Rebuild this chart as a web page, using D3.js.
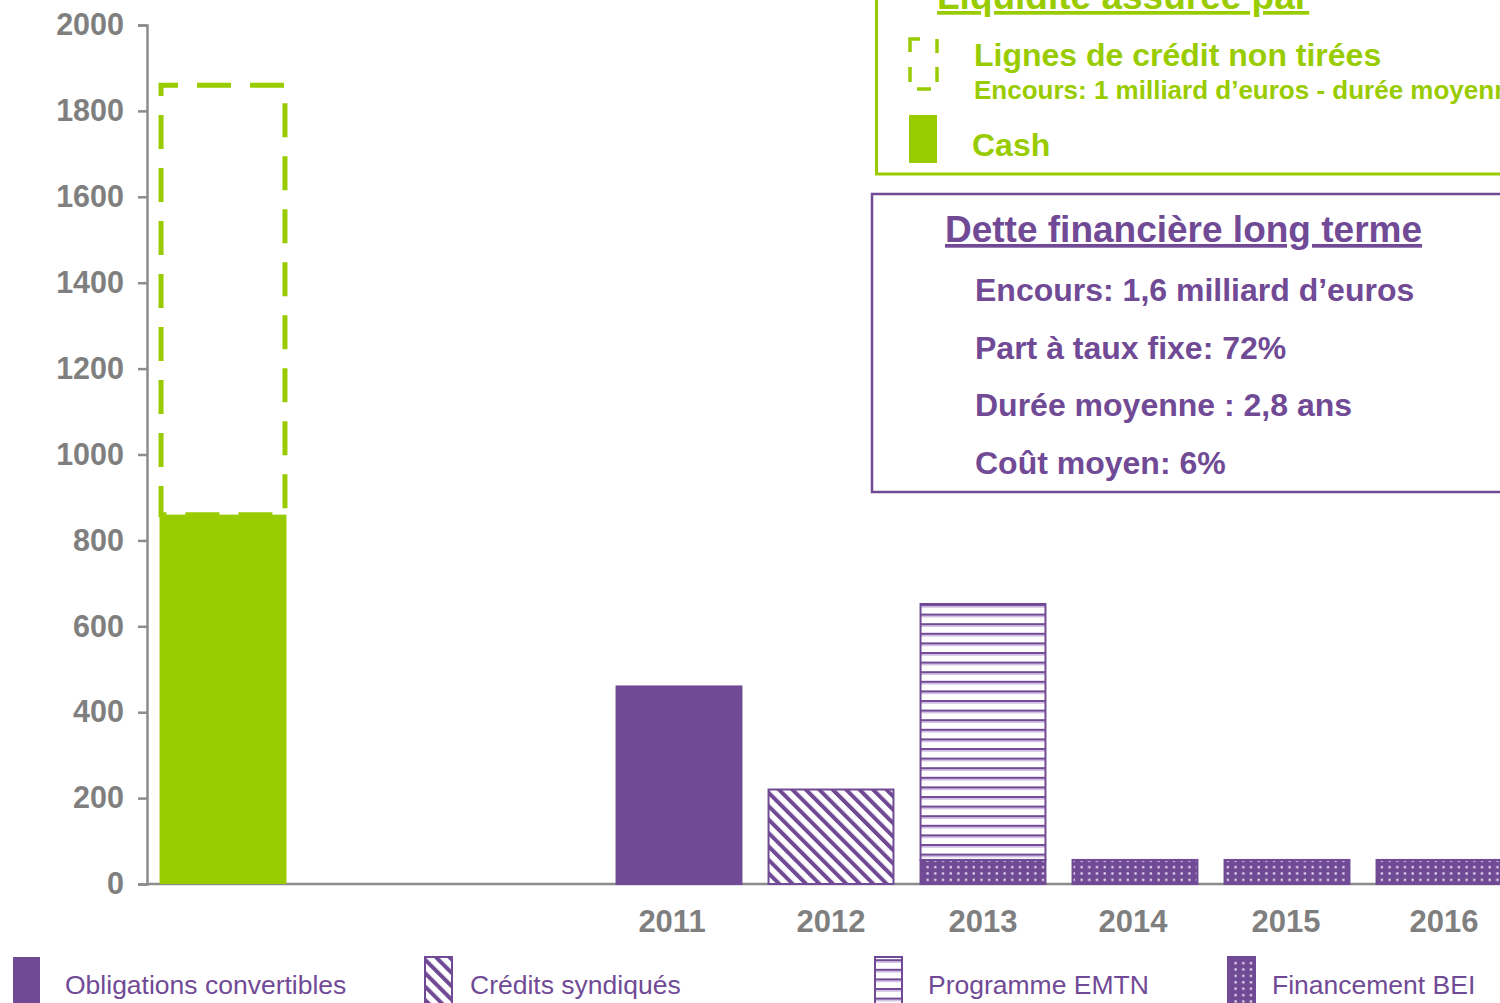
<!DOCTYPE html>
<html><head><meta charset="utf-8">
<script src="https://cdn.jsdelivr.net/npm/d3@7"></script>
<style>body{margin:0;background:#fff;}svg{display:block;font-family:"Liberation Sans",Arial,sans-serif;}</style>
</head><body><div id="chart"></div>
<script>
// ---- data ----
const categories = ["Liquidité", "gapA", "gapB", "2011", "2012", "2013", "2014", "2015", "2016"];
const categoryLabels = ["", "", "", "2011", "2012", "2013", "2014", "2015", "2016"];
const cashValue = 860;
const creditLinesValue = 1000;
const years = ["2011", "2012", "2013", "2014", "2015", "2016"];
const beiValues = [0, 0, 56, 56, 56, 56];
const emtnValues = [0, 0, 596, 0, 0, 0];
const syndicatedValues = [0, 220, 0, 0, 0, 0];
const convertibleValues = [460, 0, 0, 0, 0, 0];
const yTicks = [0, 200, 400, 600, 800, 1000, 1200, 1400, 1600, 1800, 2000];
const seriesKeys = ["bei", "emtn", "syndicated", "convertible"];
const legendLabels = ["Obligations convertibles", "Crédits syndiqués", "Programme EMTN", "Financement BEI"];
const debtLines = ["Encours: 1,6 milliard d’euros", "Part à taux fixe: 72%", "Durée moyenne : 2,8 ans", "Coût moyen: 6%"];

const W = 1500, H = 1003;
const PURPLE = "#714A96", GREEN = "#99CC00", GRAY = "#7F7F7F", AXIS = "#8C8C8C";

const svg = d3.select("#chart").append("svg").attr("width", W).attr("height", H);
const defs = svg.append("defs");

// patterns
const pDiag = defs.append("pattern").attr("id", "pDiag").attr("patternUnits", "userSpaceOnUse")
  .attr("width", 9.5).attr("height", 9.5).attr("patternTransform", "rotate(-45)");
pDiag.append("rect").attr("width", 9.5).attr("height", 9.5).attr("fill", "#fff");
pDiag.append("rect").attr("x", 0).attr("width", 4).attr("height", 9.5).attr("fill", PURPLE);

const pHor = defs.append("pattern").attr("id", "pHor").attr("patternUnits", "userSpaceOnUse")
  .attr("width", 10).attr("height", 9.6).attr("y", 604);
pHor.append("rect").attr("width", 10).attr("height", 9.6).attr("fill", "#fff");
pHor.append("rect").attr("y", 0).attr("width", 10).attr("height", 2).attr("fill", PURPLE);
pHor.append("rect").attr("y", 2).attr("width", 10).attr("height", 1.6).attr("fill", "#C9B6DC");

const pDot = defs.append("pattern").attr("id", "pDot").attr("patternUnits", "userSpaceOnUse")
  .attr("width", 7.7).attr("height", 6.4);
pDot.append("rect").attr("width", 7.7).attr("height", 6.4).attr("fill", PURPLE);
pDot.append("rect").attr("x", 2.5).attr("y", 2).attr("width", 2.2).attr("height", 2.2).attr("fill", "#EAE2F3");

const fills = { bei: "url(#pDot)", emtn: "url(#pHor)", syndicated: "url(#pDiag)", convertible: PURPLE };

// scales
const x = d3.scaleBand().domain(categories).range([147, 1515]).paddingInner(0.165).paddingOuter(0.0825);
const y = d3.scaleLinear().domain([0, 2000]).range([884, 25]);

// axes
const yAxis = svg.append("g").attr("transform", "translate(147,0)")
  .call(d3.axisLeft(y).tickValues(yTicks).tickSize(9).tickPadding(14).tickFormat(d3.format("d")));
yAxis.select(".domain").attr("stroke", AXIS).attr("stroke-width", 2.5);
yAxis.selectAll(".tick line").attr("stroke", AXIS).attr("stroke-width", 2.5);
yAxis.selectAll(".tick text").attr("fill", GRAY).attr("font-size", 30.5).attr("font-weight", "bold")
  .attr("font-family", "Liberation Sans, Arial, sans-serif");

const xLabelShift = [0, 0, 0, -7, 0, 0, -2, -1, 5];
const xAxis = svg.append("g").attr("transform", "translate(0,884)")
  .call(d3.axisBottom(x).tickSize(0).tickPadding(26).tickFormat((d, i) => categoryLabels[i]));
xAxis.select(".domain").attr("stroke", AXIS).attr("stroke-width", 2.5).attr("d", "M147,0H1500");
xAxis.selectAll(".tick text").attr("fill", GRAY).attr("font-size", 31).attr("font-weight", "bold")
  .attr("font-family", "Liberation Sans, Arial, sans-serif")
  .attr("dx", (d, i) => xLabelShift[i]);

// liquidity bar
const liq = categories[0];
svg.append("rect").attr("x", x(liq)).attr("width", x.bandwidth())
  .attr("y", y(cashValue)).attr("height", y(0) - y(cashValue)).attr("fill", GREEN);
svg.append("rect").attr("x", x(liq) + 1.5).attr("width", x.bandwidth() - 3)
  .attr("y", y(cashValue + creditLinesValue)).attr("height", y(cashValue) - y(cashValue + creditLinesValue))
  .attr("fill", "none").attr("stroke", GREEN).attr("stroke-width", 5).attr("stroke-dasharray", "34,19")
  .attr("stroke-dashoffset", 17);

// debt maturities
const rows = years.map((yr, i) => ({ year: yr, bei: beiValues[i], emtn: emtnValues[i],
  syndicated: syndicatedValues[i], convertible: convertibleValues[i] }));
const stack = d3.stack().keys(seriesKeys)(rows);
stack.forEach(s => {
  svg.append("g").selectAll("rect").data(s.filter(d => d[1] - d[0] > 0)).join("rect")
    .attr("x", d => x(d.data.year) + 1).attr("width", x.bandwidth() - 2)
    .attr("y", d => y(d[1])).attr("height", d => y(d[0]) - y(d[1]))
    .attr("fill", fills[s.key]).attr("stroke", PURPLE).attr("stroke-width", 2);
});

// green liquidity box
const gb = svg.append("g");
gb.append("rect").attr("x", 876.5).attr("y", -20).attr("width", 700).attr("height", 194)
  .attr("fill", "#fff").attr("stroke", GREEN).attr("stroke-width", 3);
gb.append("text").attr("x", 937).attr("y", 9).attr("fill", GREEN).attr("font-size", 37)
  .attr("font-weight", "bold").attr("text-decoration", "underline").text("Liquidité assurée par");
gb.append("path").attr("d", "M910,52V39H920 M937,39V53 M910,67V82 M937,67V82 M917,89H931")
  .attr("fill", "none").attr("stroke", GREEN).attr("stroke-width", 3.5);
gb.append("text").attr("x", 974).attr("y", 66).attr("fill", GREEN).attr("font-size", 32)
  .attr("font-weight", "bold").text("Lignes de crédit non tirées");
gb.append("text").attr("x", 974).attr("y", 99).attr("fill", GREEN).attr("font-size", 26)
  .attr("font-weight", "bold").text("Encours: 1 milliard d’euros - durée moyenne : 3 ans");
gb.append("rect").attr("x", 909).attr("y", 115).attr("width", 28).attr("height", 48).attr("fill", GREEN);
gb.append("text").attr("x", 972).attr("y", 156).attr("fill", GREEN).attr("font-size", 32)
  .attr("font-weight", "bold").text("Cash");

// purple debt box
const pb = svg.append("g");
pb.append("rect").attr("x", 872).attr("y", 194).attr("width", 700).attr("height", 298)
  .attr("fill", "#fff").attr("stroke", PURPLE).attr("stroke-width", 2.5);
pb.append("text").attr("x", 945).attr("y", 242).attr("fill", PURPLE).attr("font-size", 37)
  .attr("font-weight", "bold").attr("text-decoration", "underline").text("Dette financière long terme");
pb.selectAll("text.line").data(debtLines).join("text").attr("class", "line")
  .attr("x", 975).attr("y", (d, i) => 301 + i * 57.6).attr("fill", PURPLE).attr("font-size", 32)
  .attr("font-weight", "bold").text(d => d);

// bottom legend
const legendX = [12, 424, 874, 1227];
const legendTextX = [65, 470, 928, 1272];
const legendFills = [PURPLE, "url(#pDiag)", "url(#pHor)", "url(#pDot)"];
const lg = svg.append("g");
legendLabels.forEach((lab, i) => {
  lg.append("rect").attr("x", legendX[i] + 1).attr("y", 957).attr("width", 27).attr("height", 50)
    .attr("fill", legendFills[i]).attr("stroke", PURPLE).attr("stroke-width", i === 0 ? 0 : 2);
  lg.append("text").attr("x", legendTextX[i]).attr("y", 994).attr("fill", PURPLE)
    .attr("font-size", 26.5).text(lab);
});
</script></body></html>
